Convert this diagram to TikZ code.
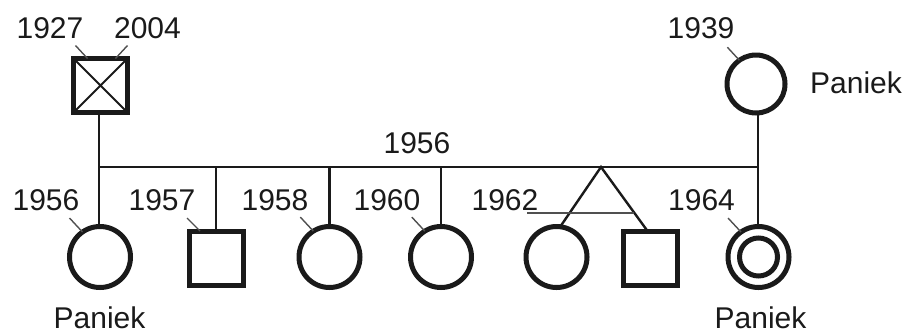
\documentclass[tikz,border=0pt]{standalone}
\usepackage{fontspec}
\setmainfont{Liberation Sans}
\usetikzlibrary{calc}
\definecolor{ink}{HTML}{1A1A1A}
\definecolor{tickc}{HTML}{505050}
\begin{document}
\begin{tikzpicture}[x=1pt,y=-1pt,
  fem/.style={circle,draw=ink,line width=5pt,inner sep=0pt,outer sep=0pt,minimum size=61pt},
  mal/.style={rectangle,draw=ink,line width=5pt,inner sep=0pt,outer sep=0pt,minimum size=54pt},
  lbl/.style={text=ink,font=\fontsize{30}{32}\selectfont,inner sep=0pt,anchor=base},
  link/.style={draw=ink,line width=2.4pt},
  tick/.style={draw=tickc,line width=1.4pt}]
\useasboundingbox (0,0) rectangle (909,333);
% parents
\node[mal,line width=5.6pt] (fa) at (100.5,85.5) {};
\draw[ink,line width=2pt] (fa.north west) -- (fa.south east) (fa.north east) -- (fa.south west);
\node[fem,minimum size=58pt] (mo) at (756,84) {};
% children
\node[fem] (c1) at (100,257) {};
\node[mal] (c2) at (216,258) {};
\node[fem] (c3) at (329.5,257) {};
\node[fem] (c4) at (441,257) {};
\node[fem] (c5) at (556.5,257) {};
\node[mal] (c6) at (650.5,258) {};
\node[fem] (c7) at (758.5,257) {};
\node[circle,draw=ink,line width=5pt,inner sep=0pt,minimum size=38pt] (c7i) at (c7) {};
% sibship
\coordinate (sL) at (99,167);
\coordinate (sR) at (758,167);
\coordinate (tw) at (601,167);
\draw[link] (fa.south -| sL) -- (sL) -- (sR) -- (mo.south -| sR);
\draw[link] (sL) -- (c1.north -| sL);
\draw[link] (c2.north) -- (c2.north |- sL);
\draw[link] (c3.north) -- (c3.north |- sL);
\draw[link] (c4.north) -- (c4.north |- sL);
\draw[link] (c7.north -| sR) -- (sR);
\draw[link] (c5.83) -- (tw) -- ($(c6.north)+(-3,0)$);
\coordinate (twL) at (527,213);
\coordinate (twR) at (634,213);
\draw[tickc,line width=1.4pt] (twL) -- (twR);
% labels
\node[lbl] (l1927) at (50,38) {1927};
\node[lbl] (l2004) at (147.5,38) {2004};
\node[lbl] (l1939) at (701,38) {1939};
\node[lbl] (pmo) at (856,93) {Paniek};
\node[lbl] (lsib) at (417,153) {1956};
\node[lbl] (l1956) at (46,210) {1956};
\node[lbl] (l1957) at (162,210) {1957};
\node[lbl] (l1958) at (275,210) {1958};
\node[lbl] (l1960) at (387,210) {1960};
\node[lbl] (l1962) at (505,210) {1962};
\node[lbl] (l1964) at (701.5,210) {1964};
\node[lbl] (p1) at (99.5,328) {Paniek};
\node[lbl] (p7) at (760.5,328) {Paniek};
% ticks
\draw[tick] ($(fa.north west)+(14,0)$) -- ++(-12,-13);
\draw[tick] ($(fa.north east)+(-12,0)$) -- ++(12,-13);
\draw[tick] (mo.125) -- ++(-12,-13);
\draw[tick] (c1.125) -- ++(-13,-14);
\draw[tick] ($(c2.north west)+(11,0)$) -- ++(-13,-13);
\draw[tick] (c3.122) -- ++(-13,-14);
\draw[tick] (c4.122) -- ++(-13,-14);
\draw[tick] (c7.125) -- ++(-13,-14);
\end{tikzpicture}
\end{document}
